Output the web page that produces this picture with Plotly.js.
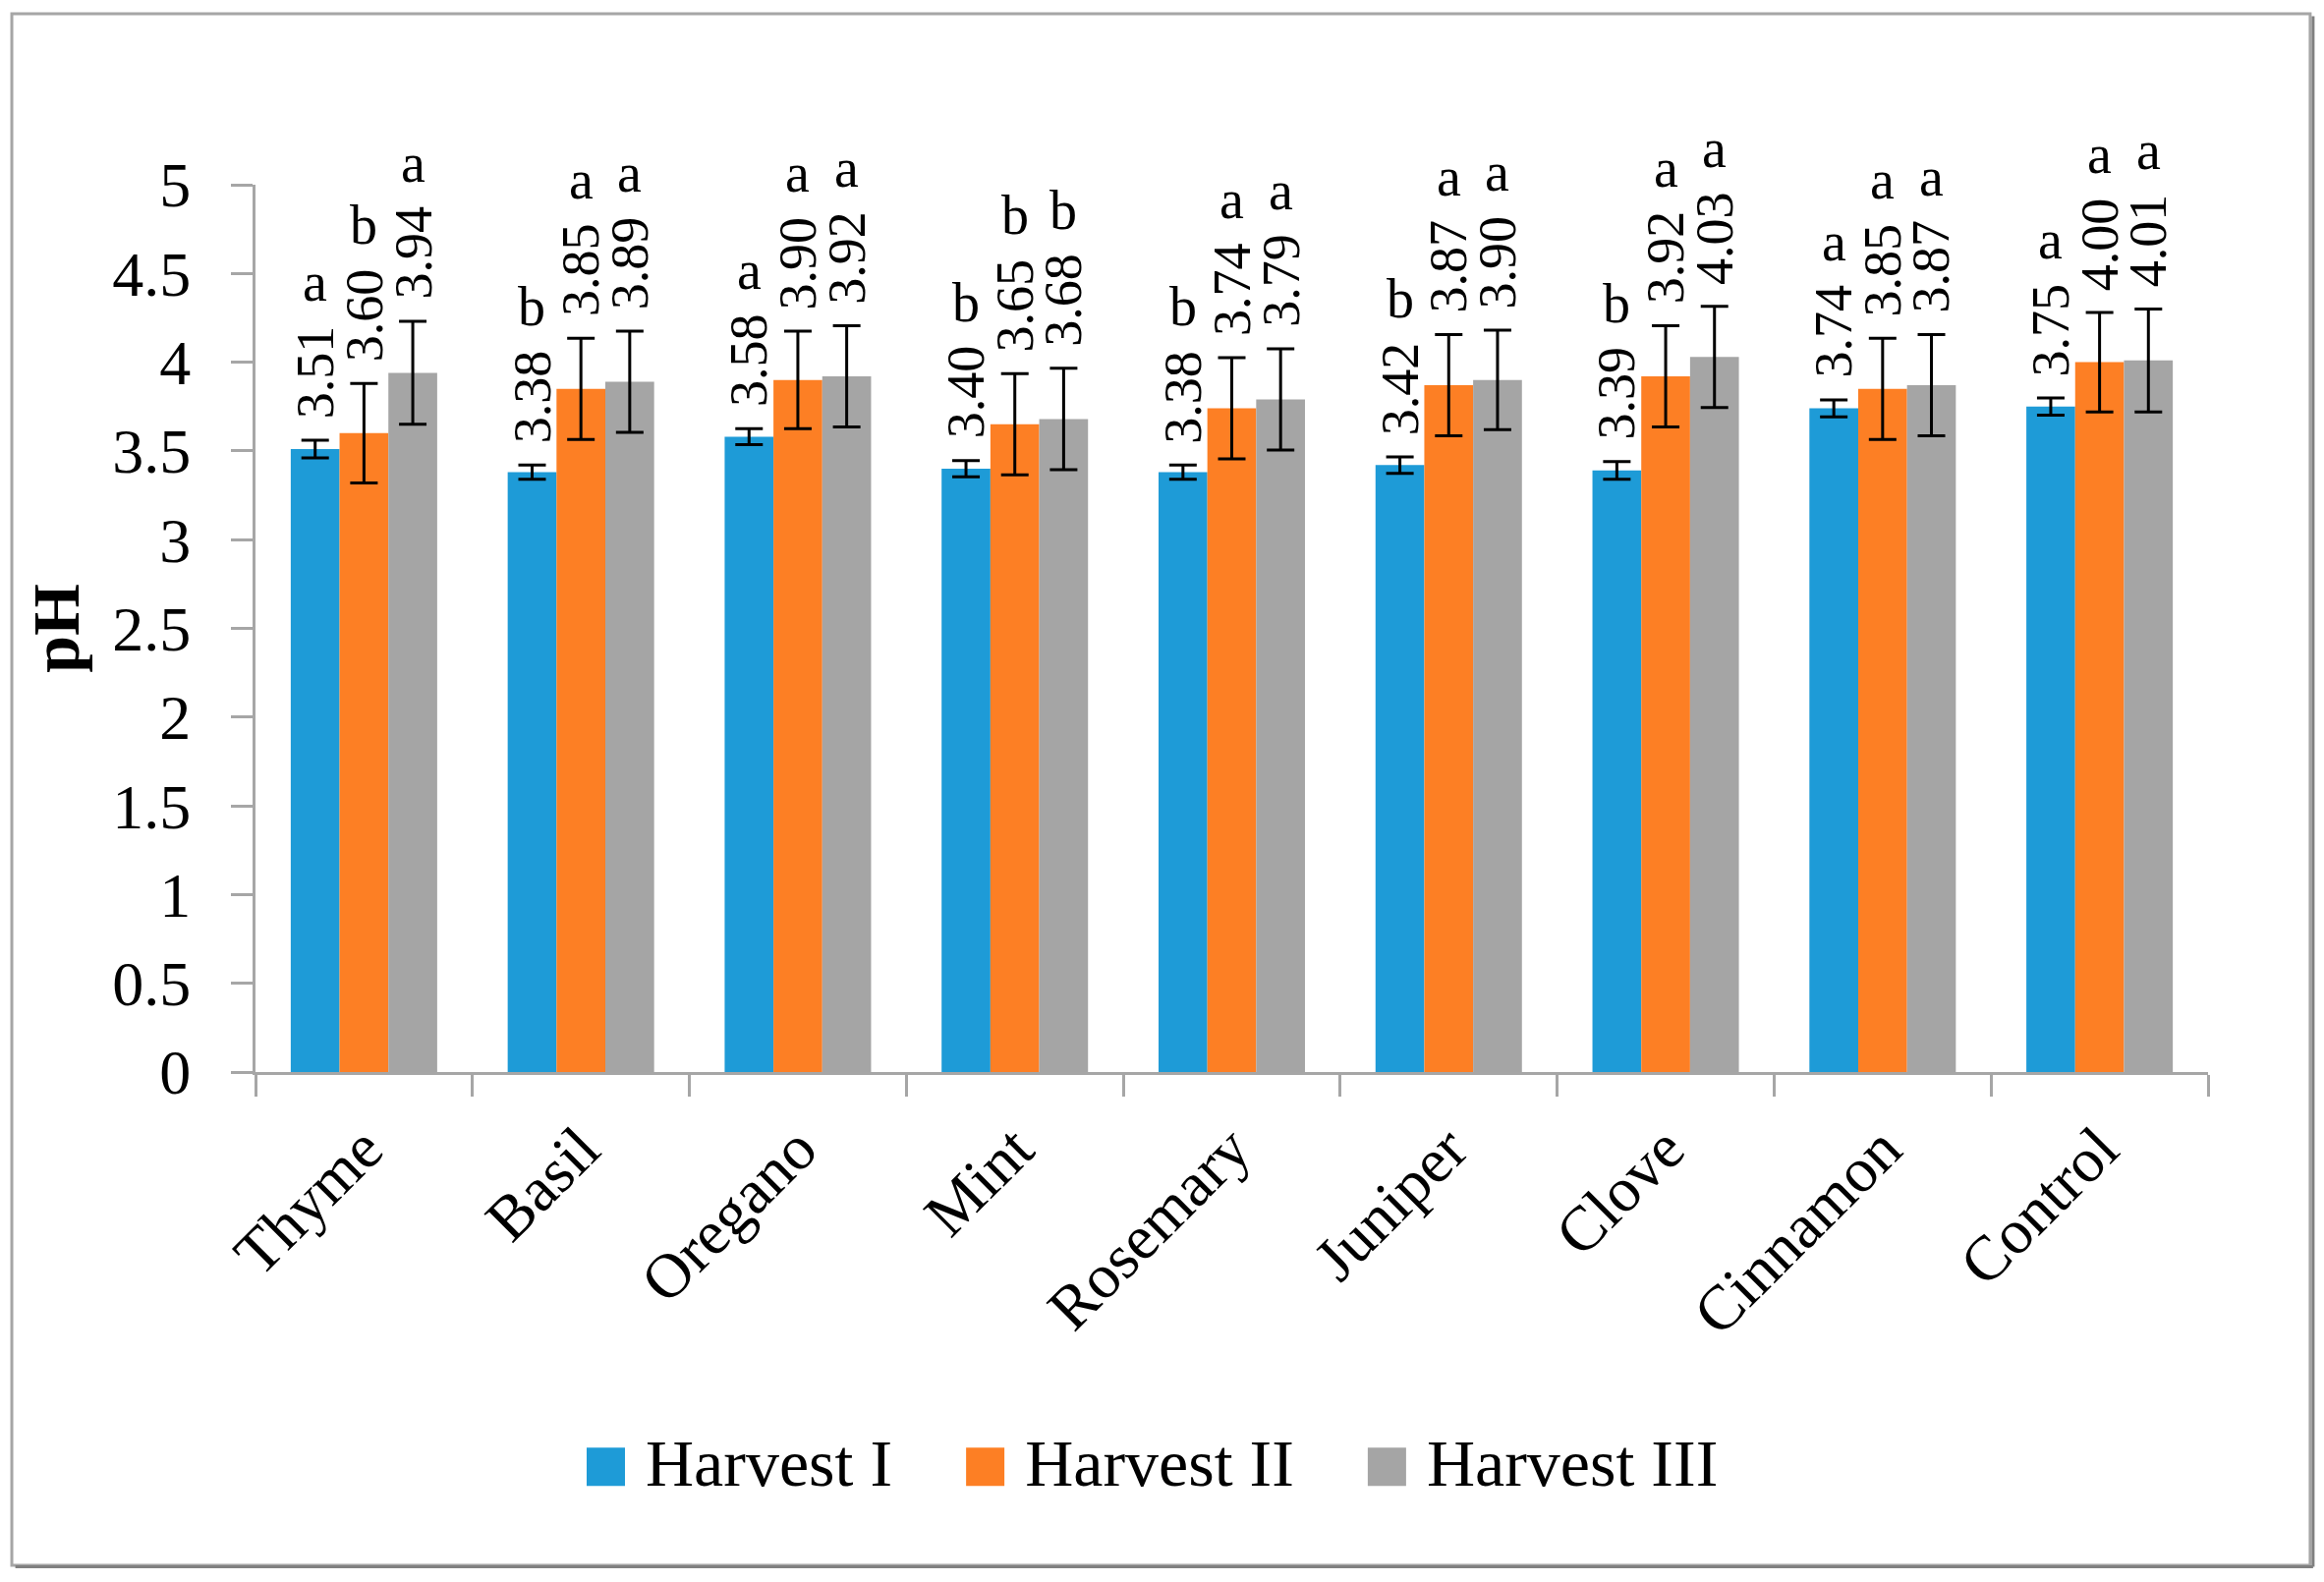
<!DOCTYPE html>
<html>
<head>
<meta charset="utf-8">
<script src="https://cdn.plot.ly/plotly-3.0.1.min.js"></script>
<style>
html,body{margin:0;padding:0;background:#fff;}
#chart{width:2365px;height:1610px;}
</style>
</head>
<body>
<div id="chart"></div>
<script>
const categories = ["Thyme","Basil","Oregano","Mint","Rosemary","Juniper","Clove","Cinnamon","Control"];
const seriesNames = ["Harvest I","Harvest II","Harvest III"];
const harvest1 = [3.51,3.38,3.58,3.40,3.38,3.42,3.39,3.74,3.75];
const harvest2 = [3.60,3.85,3.90,3.65,3.74,3.87,3.92,3.85,4.00];
const harvest3 = [3.94,3.89,3.92,3.68,3.79,3.90,4.03,3.87,4.01];
const err1 = [0.05,0.04,0.045,0.046,0.04,0.046,0.05,0.048,0.048];
const err2 = [0.28,0.285,0.275,0.285,0.285,0.285,0.285,0.285,0.28];
const err3 = [0.29,0.285,0.285,0.286,0.285,0.28,0.285,0.285,0.29];
const letters1 = ["a","b","a","b","b","b","b","a","a"];
const letters2 = ["b","a","a","b","a","a","a","a","a"];
const letters3 = ["a","a","a","b","a","a","a","a","a"];

const colors = ["#1E9BD7","#FD7F24","#A5A5A5"];
const FONT = "Liberation Serif, Times New Roman, serif";
const values = [harvest1, harvest2, harvest3];
const errs = [err1, err2, err3];
const letters = [letters1, letters2, letters3];

const traces = values.map((v, k) => ({
  type: "bar",
  name: seriesNames[k],
  x: categories,
  y: v,
  marker: {color: colors[k], line: {width: 0}},
  error_y: {type: "data", array: errs[k], visible: true, color: "#000", thickness: 3, width: 14}
}));

const barOffset = 0.225;
const annotations = [];
values.forEach((v, k) => {
  v.forEach((val, i) => {
    const xpos = i + (k - 1) * barOffset;
    const top = val + errs[k][i];
    annotations.push({
      x: xpos, y: top, xref: "x", yref: "y",
      text: val.toFixed(2), textangle: -90, showarrow: false,
      xanchor: "center", yanchor: "bottom", yshift: 20,
      font: {family: FONT, size: 54, color: "#000"}
    });
    annotations.push({
      x: xpos, y: top, xref: "x", yref: "y",
      text: letters[k][i], showarrow: false,
      xanchor: "center", yanchor: "bottom", yshift: 128,
      font: {family: FONT, size: 56, color: "#000"}
    });
  });
});

const layout = {
  width: 2365, height: 1610,
  margin: {l: 260, r: 118, t: 188, b: 519},
  paper_bgcolor: "#fff", plot_bgcolor: "#fff",
  font: {family: FONT, color: "#000"},
  barmode: "group",
  bargap: 0.325,
  bargroupgap: 0,
  showlegend: true,
  legend: {
    orientation: "h", x: 0.47, xanchor: "center", y: -0.437, yanchor: "middle",
    font: {family: FONT, size: 68, color: "#000"}, traceorder: "normal"
  },
  xaxis: {
    type: "category", range: [-0.5, 8.5],
    showline: true, linecolor: "#A6A6A6", linewidth: 3,
    ticks: "outside", tickson: "boundaries", ticklen: 22, tickwidth: 3, tickcolor: "#A6A6A6",
    ticklabelstandoff: 12,
    tickangle: -45, tickfont: {family: FONT, size: 64, color: "#000"},
    showgrid: false, zeroline: false
  },
  yaxis: {
    range: [0, 5], dtick: 0.5, tick0: 0,
    showline: true, linecolor: "#A6A6A6", linewidth: 3,
    ticks: "outside", ticklen: 22, tickwidth: 3, tickcolor: "#A6A6A6",
    ticklabelstandoff: 28,
    tickfont: {family: FONT, size: 64, color: "#000"},
    showgrid: false, zeroline: false,
    title: {text: "<b>pH</b>", font: {family: FONT, size: 68, color: "#000"}, standoff: 12}
  },
  annotations: annotations,
  shapes: [
    {type: "rect", xref: "paper", yref: "paper", x0: -0.1248, x1: 1.0523, y0: -0.5559, y1: 1.1927,
     line: {color: "#A6A6A6", width: 3}, fillcolor: "rgba(0,0,0,0)", layer: "below"},
    {type: "line", xref: "paper", yref: "paper", x0: 1.0538, x1: 1.0538, y0: -0.5575, y1: 1.19,
     line: {color: "#808080", width: 3}},
    {type: "line", xref: "paper", yref: "paper", x0: -0.123, x1: 1.0538, y0: -0.5575, y1: -0.5575,
     line: {color: "#808080", width: 3}}
  ]
};

function fixLegend() {
  const gd = document.getElementById("chart");
  gd.querySelectorAll(".legend [clip-path]").forEach(e => e.removeAttribute("clip-path"));
  const items = Array.from(gd.querySelectorAll(".legend .traces"));
  let desiredLeft = 657;
  items.forEach(g => {
    const text = g.querySelector("text.legendtext");
    if (!text) return;
    const tr = text.getBoundingClientRect();
    const m = /translate\(\s*([-\d.e]+)[ ,]+([-\d.e]+)\s*\)/.exec(g.getAttribute("transform") || "");
    const ox = m ? parseFloat(m[1]) : 0, oy = m ? parseFloat(m[2]) : 0;
    g.setAttribute("transform", "translate(" + (ox + desiredLeft - tr.left) + "," + oy + ")");
    const tr2 = text.getBoundingClientRect();
    const path = g.querySelector(".legendpoints path");
    if (path) {
      path.removeAttribute("transform");
      const inv = path.parentNode.getScreenCTM().inverse();
      const cy = (tr2.top + tr2.bottom) / 2 + 4;
      const x1 = tr2.left - 21, x0 = x1 - 39;
      const a = new DOMPoint(x0, cy - 19.5).matrixTransform(inv);
      const b = new DOMPoint(x1, cy + 19.5).matrixTransform(inv);
      path.setAttribute("d", "M" + a.x + "," + a.y + "H" + b.x + "V" + b.y + "H" + a.x + "Z");
    }
    desiredLeft = tr2.right + 135;
  });
}

Plotly.newPlot("chart", traces, layout, {displayModeBar: false, staticPlot: true}).then(fixLegend);
</script>
</body>
</html>
